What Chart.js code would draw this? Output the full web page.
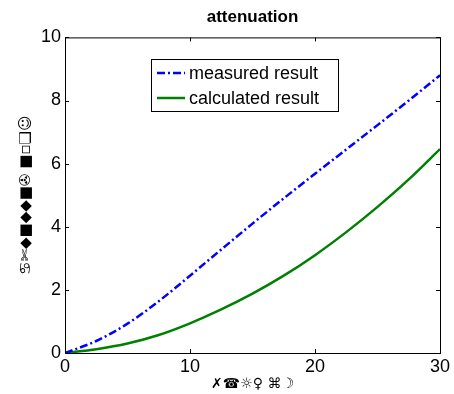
<!DOCTYPE html>
<html>
<head>
<meta charset="utf-8">
<script src="https://cdn.jsdelivr.net/npm/chart.js@4/dist/chart.umd.min.js"></script>
<style>
    html, body { margin: 0; padding: 0; background: #fff; }
    #wrap { width: 454px; height: 394px; }
</style>
</head>
<body>
<div id="wrap"><canvas id="attChart" width="454" height="394"></canvas></div>
<script>
// Data
const xValues = [0, 2.5, 5, 7.5, 10, 12.5, 15, 17.5, 20, 22.5, 25, 27.5, 30];
const measured = [0, 0.38, 0.93, 1.64, 2.45, 3.28, 4.1, 4.9, 5.68, 6.45, 7.22, 8.0, 8.8];
const calculated = [0, 0.12, 0.3, 0.57, 0.94, 1.38, 1.88, 2.45, 3.1, 3.83, 4.63, 5.5, 6.46];
const seriesLabels = ['measured result', 'calculated result'];
const xTicks = [0, 10, 20, 30];
const yTicks = [0, 2, 4, 6, 8, 10];

const FONT = 'Arial, "Liberation Sans", sans-serif';

// MATLAB style box with inward ticks on all four sides
const boxPlugin = {
    id: 'box',
    afterDatasetsDraw(chart) {
        const { ctx, chartArea: a, scales } = chart;
        ctx.save();
        ctx.strokeStyle = '#000';
        ctx.lineWidth = 1;
        ctx.strokeRect(a.left + 0.5, a.top + 0.5, a.right - a.left, a.bottom - a.top);
        const len = 4;
        ctx.beginPath();
        xTicks.forEach(v => {
            const px = Math.round(scales.x.getPixelForValue(v)) + 0.5;
            ctx.moveTo(px, a.bottom); ctx.lineTo(px, a.bottom - len);
            ctx.moveTo(px, a.top); ctx.lineTo(px, a.top + len);
        });
        yTicks.forEach(v => {
            const py = Math.round(scales.y.getPixelForValue(v)) + 0.5;
            ctx.moveTo(a.left, py); ctx.lineTo(a.left + len, py);
            ctx.moveTo(a.right, py); ctx.lineTo(a.right - len, py);
        });
        ctx.stroke();
        ctx.restore();
    }
};

// legend box inside the axes
const legendPlugin = {
    id: 'boxLegend',
    afterDraw(chart) {
        const { ctx } = chart;
        const x = 151, y = 59, w = 187, h = 52;
        ctx.save();
        ctx.fillStyle = '#fff';
        ctx.fillRect(x, y, w, h);
        ctx.strokeStyle = '#000';
        ctx.lineWidth = 1;
        ctx.strokeRect(x + 0.5, y + 0.5, w, h);
        ctx.font = '18px ' + FONT;
        ctx.textBaseline = 'middle';
        chart.data.datasets.forEach((ds, i) => {
            const cy = y + 14 + i * 25;
            ctx.strokeStyle = ds.borderColor;
            ctx.lineWidth = ds.borderWidth;
            ctx.setLineDash(ds.borderDash || []);
            ctx.beginPath();
            ctx.moveTo(x + 6, cy);
            ctx.lineTo(x + 34, cy);
            ctx.stroke();
            ctx.setLineDash([]);
            ctx.fillStyle = '#000';
            ctx.fillText(ds.label, x + 38, cy + 1);
        });
        ctx.restore();
    }
};

const ctx = document.getElementById('attChart').getContext('2d');
new Chart(ctx, {
    type: 'line',
    data: {
        datasets: [{
            label: seriesLabels[0],
            data: xValues.map((x, i) => ({ x: x, y: measured[i] })),
            borderColor: '#0000ff',
            borderWidth: 2.5,
            borderDash: [8, 3, 2, 3],
            pointRadius: 0,
            cubicInterpolationMode: 'monotone'
        }, {
            label: seriesLabels[1],
            data: xValues.map((x, i) => ({ x: x, y: calculated[i] })),
            borderColor: '#008000',
            borderWidth: 2.5,
            pointRadius: 0,
            cubicInterpolationMode: 'monotone'
        }]
    },
    options: {
        responsive: false,
        animation: false,
        layout: { padding: { left: 0, right: 14, top: 0, bottom: 0 } },
        plugins: {
            legend: { display: false },
            tooltip: { enabled: false },
            title: {
                display: true,
                text: 'attenuation',
                fullSize: false,
                color: '#000',
                font: { family: FONT, size: 17, weight: 'bold' },
                padding: { top: 7, bottom: 10 }
            }
        },
        scales: {
            x: {
                type: 'linear',
                min: 0,
                max: 30,
                afterBuildTicks: s => { s.ticks = xTicks.map(v => ({ value: v })); },
                afterFit: s => { s.height = 41; },
                grid: { display: false, drawTicks: false },
                border: { display: false },
                ticks: { color: '#000', padding: 3, maxRotation: 0, font: { family: FONT, size: 18 } },
                title: {
                    display: true,
                    text: '✗☎☼♀ ⌘☽',
                    color: '#000',
                    font: { family: '"DejaVu Sans"', size: 14 },
                    padding: { top: 0, bottom: 1 }
                }
            },
            y: {
                min: 0,
                max: 10,
                afterBuildTicks: s => { s.ticks = yTicks.map(v => ({ value: v })); },
                afterFit: s => { s.width = 65; },
                grid: { display: false, drawTicks: false },
                border: { display: false },
                ticks: { color: '#000', padding: 4, font: { family: FONT, size: 18 } },
                title: {
                    display: true,
                    text: '♋✄◆■◆◆■✇ ■▫❑☺',
                    color: '#000',
                    font: { family: '"DejaVu Sans"', size: 15 },
                    padding: { top: 17, bottom: 0 }
                }
            }
        }
    },
    plugins: [boxPlugin, legendPlugin]
});
</script>
</body>
</html>
